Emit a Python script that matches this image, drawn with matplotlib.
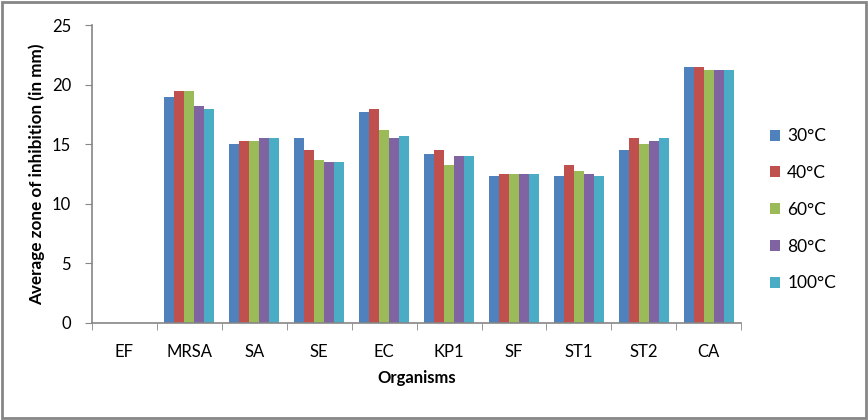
import numpy as np
import matplotlib.pyplot as plt
from matplotlib.patches import Rectangle

plt.rcParams['font.family'] = ['Lato', 'DejaVu Sans']

organisms = ['EF', 'MRSA', 'SA', 'SE', 'EC', 'KP1', 'SF', 'ST1', 'ST2', 'CA']
temps = ['30°C', '40°C', '60°C', '80°C', '100°C']
t30  = [0, 19.0, 15.0, 15.5, 17.7, 14.2, 12.3, 12.3, 14.5, 21.5]
t40  = [0, 19.5, 15.3, 14.5, 18.0, 14.5, 12.5, 13.3, 15.5, 21.5]
t60  = [0, 19.5, 15.3, 13.7, 16.2, 13.3, 12.5, 12.8, 15.0, 21.2]
t80  = [0, 18.2, 15.5, 13.5, 15.5, 14.0, 12.5, 12.5, 15.3, 21.2]
t100 = [0, 18.0, 15.5, 13.5, 15.7, 14.0, 12.5, 12.3, 15.5, 21.2]
series = [t30, t40, t60, t80, t100]
colors = ['#4F81BD', '#C0504D', '#9BBB59', '#8064A2', '#4BACC6']

fig = plt.figure(figsize=(8.68, 4.2), dpi=100)
ax = fig.add_axes([0.106, 0.231, 0.748, 0.709])

x = np.arange(len(organisms))
w = 0.154
for i, (vals, c, lab) in enumerate(zip(series, colors, temps)):
    ax.bar(x + (i - 2) * w, vals, w, color=c, label=lab)

ax.set_xlim(-0.5, len(organisms) - 0.5)
ax.set_ylim(0, 25)
ax.set_yticks([0, 5, 10, 15, 20, 25])
ax.set_xticks(x)
ax.set_xticklabels(organisms, fontsize=12)
ax.set_xticks(np.arange(-0.5, len(organisms)), minor=True)
ax.tick_params(axis='x', which='major', length=0, pad=15)
ax.tick_params(axis='x', which='minor', length=5, color='#868686')
ax.tick_params(axis='y', length=5, color='#868686', labelsize=12, pad=10)

for s in ['top', 'right']:
    ax.spines[s].set_visible(False)
for s in ['left', 'bottom']:
    ax.spines[s].set_color('#868686')
    ax.spines[s].set_linewidth(1.2)

ax.set_xlabel('Organisms', fontsize=12, fontweight='bold', labelpad=7)
ax.set_ylabel('Average zone of inhibition (in mm)', fontsize=12.3, fontweight='bold', labelpad=5)

ax.legend(loc='center left', bbox_to_anchor=(1.02, 0.38), frameon=False,
          fontsize=12.5, handlelength=0.6, handleheight=0.6, labelspacing=1.2,
          handletextpad=0.4)

fig.patches.append(Rectangle((0.002, 0.004), 0.996, 0.992, transform=fig.transFigure,
                             fill=False, edgecolor='#868686', linewidth=2))

fig.savefig('out.png', dpi=100)
